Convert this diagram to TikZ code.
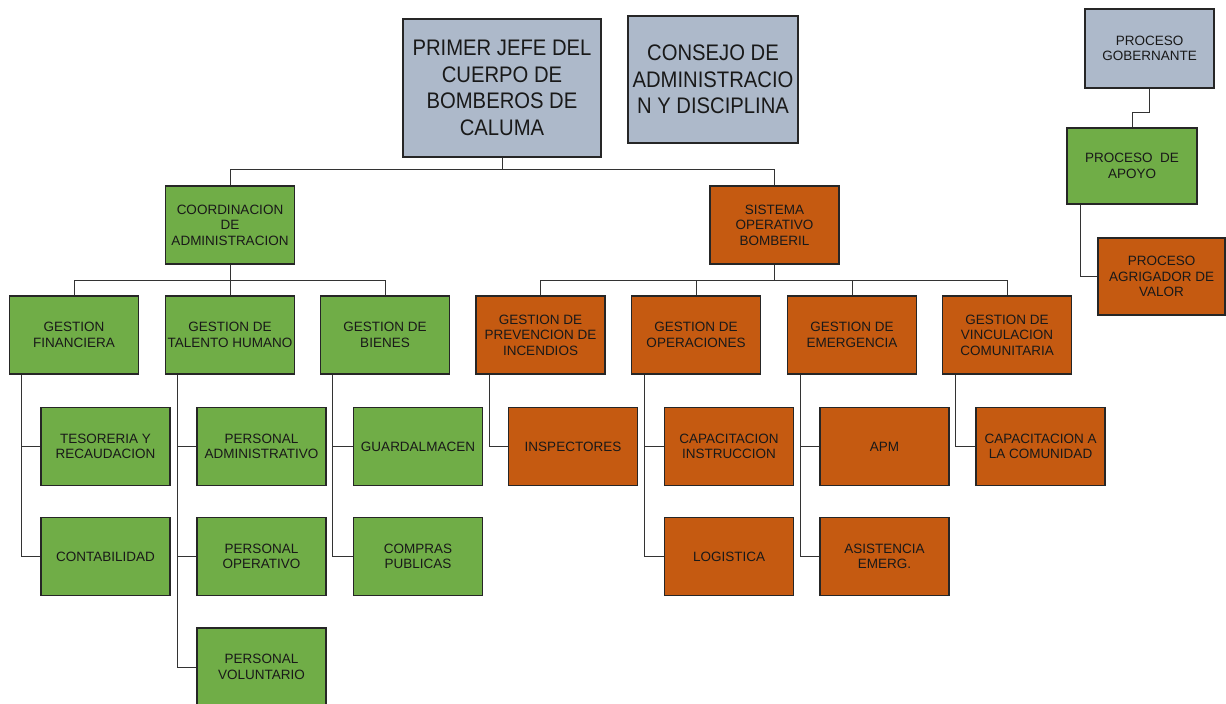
\documentclass[tikz,border=0pt]{standalone}
\usepackage{fontspec}
\setmainfont{Liberation Sans}
\newfontfamily\bigfont{Liberation Sans}[FakeStretch=0.9]
\definecolor{bgray}{HTML}{ADB9CA}
\definecolor{bgreen}{HTML}{70AD47}
\definecolor{borange}{HTML}{C55A11}
\begin{document}
\begin{tikzpicture}[x=1pt,y=-1pt,
  box/.style={draw=black!85, line width=1.3pt, inner sep=0pt, align=center,
    minimum width=129pt, minimum height=78pt, text=black!90,
    font=\fontsize{13.5}{15.5}\selectfont},
  big/.style={box, font=\bigfont\fontsize{22.5}{26.5}\selectfont},
  gbox/.style={box, fill=bgreen},
  obox/.style={box, fill=borange},
  conn/.style={draw=black!80, line width=1pt}]
\useasboundingbox (0,0) rectangle (1226,704);
% top
\node[big, fill=bgray, minimum width=198pt, minimum height=138pt] (jefe) at (502,88) {PRIMER JEFE DEL\\CUERPO DE\\BOMBEROS DE\\CALUMA};
\node[big, fill=bgray, minimum width=170pt, minimum height=127pt] (consejo) at (713,79.5) {CONSEJO DE\\ADMINISTRACIO\\N Y DISCIPLINA};
% right column
\node[box, fill=bgray, minimum width=129pt, minimum height=79pt] (gob) at (1149.5,48.5) {PROCESO\\GOBERNANTE};
\node[gbox, minimum width=130pt, minimum height=76pt] (apoyo) at (1132,166) {PROCESO\ \ DE\\APOYO};
\node[obox, minimum width=127pt, minimum height=77pt] (agri) at (1161.5,276.5) {PROCESO\\AGRIGADOR DE\\VALOR};
% level 2
\node[gbox] (coord) at (230,225) {COORDINACION\\DE\\ADMINISTRACION};
\node[obox] (sis) at (774.5,225) {SISTEMA\\OPERATIVO\\BOMBERIL};
% level 3 green
\node[gbox] (fin) at (74,335) {GESTION\\FINANCIERA};
\node[gbox] (tal) at (230,335) {GESTION DE\\TALENTO HUMANO};
\node[gbox] (bie) at (385,335) {GESTION DE\\BIENES};
% level 3 orange
\node[obox] (prev) at (540.5,335) {GESTION DE\\PREVENCION DE\\INCENDIOS};
\node[obox] (oper) at (696,335) {GESTION DE\\OPERACIONES};
\node[obox] (emer) at (852,335) {GESTION DE\\EMERGENCIA};
\node[obox] (vinc) at (1007,335) {GESTION DE\\VINCULACION\\COMUNITARIA};
% level 4/5 green
\node[gbox] (teso) at (105.5,446.5) {TESORERIA Y\\RECAUDACION};
\node[gbox] (conta) at (105.5,556.5) {CONTABILIDAD};
\node[gbox] (padm) at (261.5,446.5) {PERSONAL\\ADMINISTRATIVO};
\node[gbox] (pope) at (261.5,556.5) {PERSONAL\\OPERATIVO};
\node[gbox] (pvol) at (261.5,667) {PERSONAL\\VOLUNTARIO};
\node[gbox] (guar) at (418,446.5) {GUARDALMACEN};
\node[gbox] (comp) at (418,556.5) {COMPRAS\\PUBLICAS};
% level 4/5 orange
\node[obox] (insp) at (573,446.5) {INSPECTORES};
\node[obox] (capi) at (729,446.5) {CAPACITACION\\INSTRUCCION};
\node[obox] (logi) at (729,556.5) {LOGISTICA};
\node[obox] (apm) at (884.5,446.5) {APM};
\node[obox] (asis) at (884.5,556.5) {ASISTENCIA\\EMERG.};
\node[obox] (capc) at (1040.5,446.5) {CAPACITACION A\\LA COMUNIDAD};
% connectors
\draw[conn] (jefe.south) -- ++(0,12) -| (coord.north);
\draw[conn] (jefe.south) -- ++(0,12) -| (sis.north);
\draw[conn] (coord.south) -- ++(0,16) -| (fin.north);
\draw[conn] (coord.south) -- ++(0,16) -| (bie.north);
\draw[conn] (coord.south) -- (tal.north);
\draw[conn] (sis.south) -- ++(0,16) -| (prev.north);
\draw[conn] (sis.south) -- ++(0,16) -| (oper.north);
\draw[conn] (sis.south) -- ++(0,16) -| (emer.north);
\draw[conn] (sis.south) -- ++(0,16) -| (vinc.north);
\draw[conn] ([xshift=13pt]fin.south west) |- (teso.west);
\draw[conn] ([xshift=13pt]fin.south west) |- (conta.west);
\draw[conn] ([xshift=13pt]tal.south west) |- (padm.west);
\draw[conn] ([xshift=13pt]tal.south west) |- (pope.west);
\draw[conn] ([xshift=13pt]tal.south west) |- (pvol.west);
\draw[conn] ([xshift=13pt]bie.south west) |- (guar.west);
\draw[conn] ([xshift=13pt]bie.south west) |- (comp.west);
\draw[conn] ([xshift=14pt]prev.south west) |- (insp.west);
\draw[conn] ([xshift=14pt]oper.south west) |- (capi.west);
\draw[conn] ([xshift=14pt]oper.south west) |- (logi.west);
\draw[conn] ([xshift=14pt]emer.south west) |- (apm.west);
\draw[conn] ([xshift=14pt]emer.south west) |- (asis.west);
\draw[conn] ([xshift=14pt]vinc.south west) |- (capc.west);
\draw[conn] (gob.south) -- ++(0,24) -| (apoyo.north);
\draw[conn] ([xshift=14pt]apoyo.south west) |- (agri.west);
\end{tikzpicture}
\end{document}
